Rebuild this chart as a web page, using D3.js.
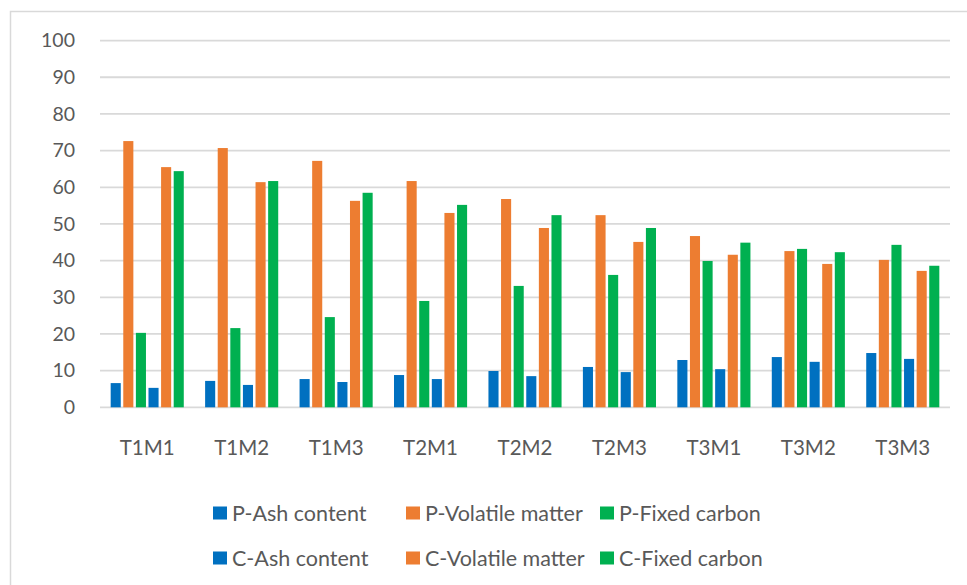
<!DOCTYPE html>
<html>
<head>
<meta charset="utf-8">
<script src="https://cdn.jsdelivr.net/npm/d3@7"></script>
<style>
  body { margin: 0; background: #fff; }
  text { font-family: Lato, "Open Sans", sans-serif; fill: #595959; }
</style>
</head>
<body>
<svg id="chart"></svg>
<script>
var width = 967, height = 585

var categories = ["T1M1", "T1M2", "T1M3", "T2M1", "T2M2", "T2M3", "T3M1", "T3M2", "T3M3"]
var seriesNames = ["P-Ash content", "P-Volatile matter", "P-Fixed carbon", "C-Ash content", "C-Volatile matter", "C-Fixed carbon"]
var seriesColours = ["#0070C0", "#ED7D31", "#00B050", "#0070C0", "#ED7D31", "#00B050"]

var pAsh = [6.6, 7.2, 7.7, 8.8, 9.9, 11.0, 12.9, 13.7, 14.8]
var pVolatile = [72.6, 70.7, 67.2, 61.7, 56.8, 52.4, 46.7, 42.6, 40.2]
var pFixed = [20.3, 21.6, 24.6, 29.0, 33.1, 36.1, 39.9, 43.2, 44.3]
var cAsh = [5.3, 6.1, 6.9, 7.7, 8.5, 9.6, 10.4, 12.4, 13.2]
var cVolatile = [65.5, 61.4, 56.3, 53.0, 48.9, 45.1, 41.6, 39.1, 37.2]
var cFixed = [64.4, 61.7, 58.5, 55.2, 52.4, 48.9, 44.9, 42.3, 38.6]
var yTicks = [0, 10, 20, 30, 40, 50, 60, 70, 80, 90, 100]

var series = [pAsh, pVolatile, pFixed, cAsh, cVolatile, cFixed]

var svg = d3.select("#chart")
    .attr("width", width)
    .attr("height", height)

// chart frame
svg.append("rect")
    .attr("x", 10.5)
    .attr("y", 11.5)
    .attr("width", width + 20)
    .attr("height", height + 20)
    .attr("fill", "none")
    .attr("stroke", "#d9d9d9")
    .attr("stroke-width", 1.5)

var x0 = d3.scaleBand()
    .domain(categories)
    .range([100, 950])
    .paddingInner(0.226)
    .paddingOuter(0.113)

var x1 = d3.scaleBand()
    .domain(d3.range(series.length))
    .range([0, x0.bandwidth()])
    .paddingInner(0.2)

var y = d3.scaleLinear()
    .domain([0, 100])
    .range([407.3, 40.6])

// gridlines
svg.append("g")
    .selectAll("line")
    .data(yTicks)
    .enter()
    .append("line")
        .attr("x1", 100)
        .attr("x2", 950)
        .attr("y1", d => y(d))
        .attr("y2", d => y(d))
        .attr("stroke", "#d9d9d9")
        .attr("stroke-width", 1.8)

// y tick labels
svg.append("g")
    .selectAll("text")
    .data(yTicks)
    .enter()
    .append("text")
        .attr("x", 75)
        .attr("y", d => y(d))
        .attr("dy", "0.35em")
        .attr("text-anchor", "end")
        .attr("font-size", 19.5)
        .text(d => d)

// bars
var groups = svg.append("g")
    .selectAll("g")
    .data(categories)
    .enter()
    .append("g")
        .attr("transform", d => "translate(" + x0(d) + ",0)")

groups.selectAll("rect")
    .data((d, i) => series.map((s, j) => ({ j: j, v: s[i] })))
    .enter()
    .append("rect")
        .attr("x", d => x1(d.j))
        .attr("width", x1.bandwidth())
        .attr("y", d => y(d.v))
        .attr("height", d => y(0) - y(d.v))
        .attr("fill", d => seriesColours[d.j])

// category labels
svg.append("g")
    .selectAll("text")
    .data(categories)
    .enter()
    .append("text")
        .attr("x", d => x0(d) + x0.bandwidth() / 2)
        .attr("y", 448)
        .attr("dy", "0.35em")
        .attr("text-anchor", "middle")
        .attr("font-size", 20.5)
        .text(d => d)

// legend, 3 columns x 2 rows
var legendCols = [213, 406, 600]
var legendRows = [513, 558]
var legend = svg.append("g")
    .selectAll("g")
    .data(seriesNames)
    .enter()
    .append("g")
        .attr("transform", (d, i) => "translate(" + legendCols[i % 3] + "," + legendRows[Math.floor(i / 3)] + ")")

legend.append("rect")
    .attr("x", 0)
    .attr("y", -6.5)
    .attr("width", 14)
    .attr("height", 13)
    .attr("fill", (d, i) => seriesColours[i])

legend.append("text")
    .attr("x", 19)
    .attr("y", 0)
    .attr("dy", "0.35em")
    .attr("font-size", 21.5)
    .text(d => d)
</script>
</body>
</html>
